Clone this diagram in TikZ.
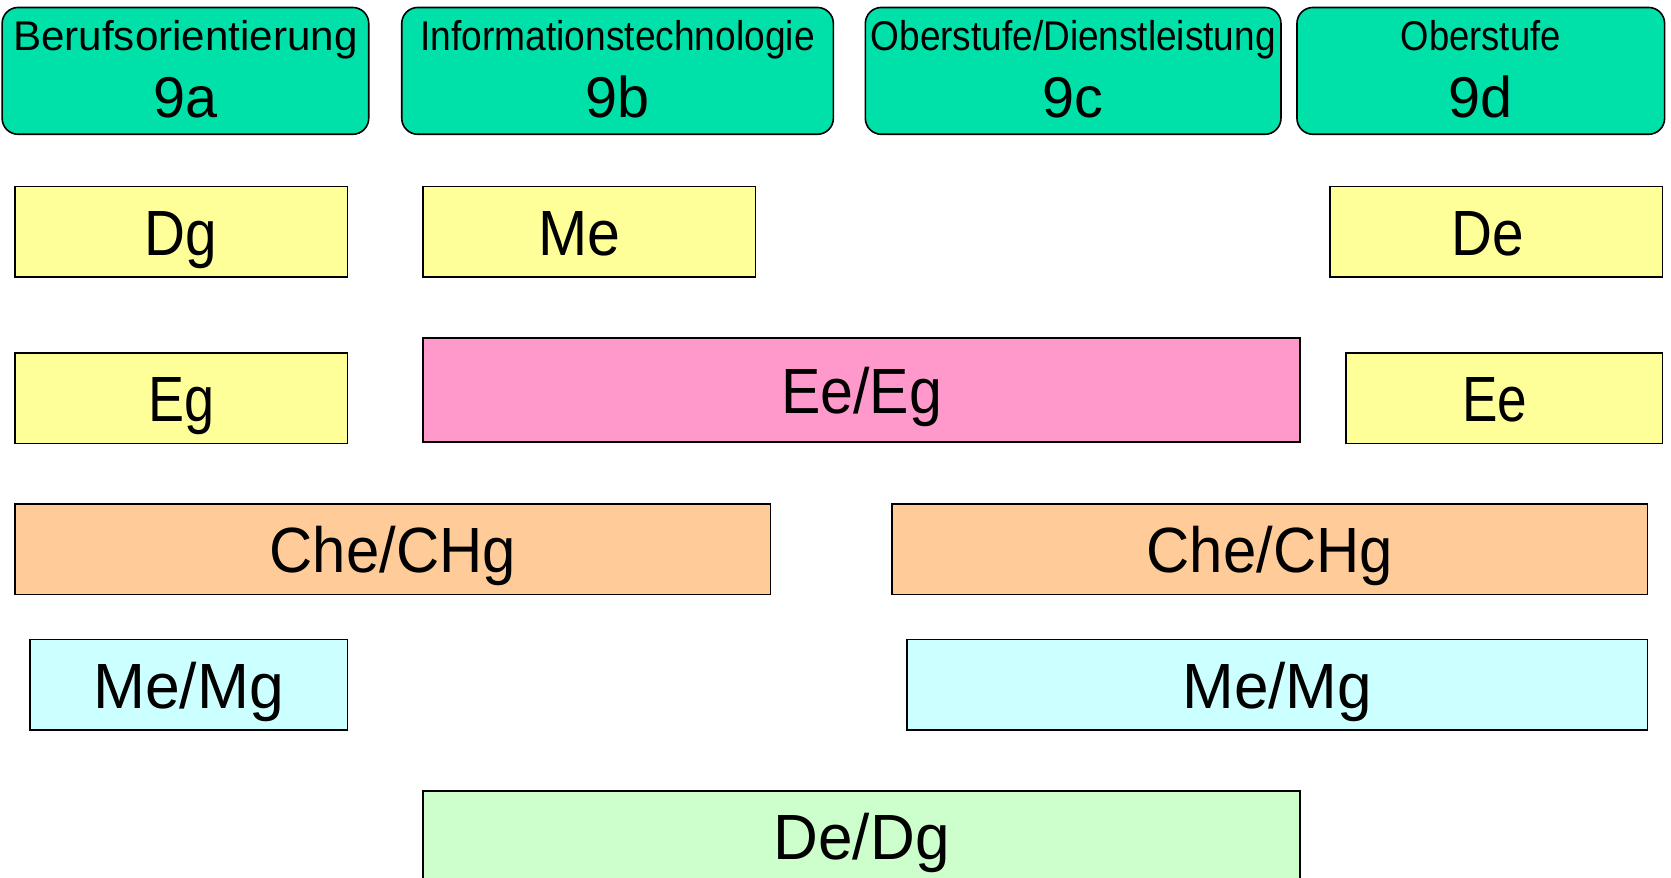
\documentclass[tikz,border=0pt]{standalone}
\usepackage{fontspec}
\setmainfont{Liberation Sans}
\usepackage{graphicx}
\definecolor{hdrgreen}{RGB}{0,225,170}
\definecolor{cyel}{RGB}{255,255,153}
\definecolor{cpink}{RGB}{255,153,204}
\definecolor{corange}{RGB}{255,204,153}
\definecolor{ccyan}{RGB}{204,255,255}
\definecolor{cgreen}{RGB}{204,255,204}
\newcommand{\sqz}[2]{\resizebox{#1pt}{\height}{#2}}
\newcommand{\mkbox}[7]{%
  \node[sbox, fill=#6, minimum width={(#4-#2)*1pt}, minimum height={(#5-#3)*1pt}]
    (#1) at ({(#2+#4)/2},{(#3+#5)/2}) {#7};}
\newcommand{\mkhdr}[7]{%
  \node[hdrbox, minimum width={(#3-#2)*1pt}, minimum height=119pt] (#1) at ({(#2+#3)/2},66.5) {};
  \node[hlineA] (#1t) at ({(#2+#3)/2},47) {\sqz{#4}{#5}};
  \node[hlineB] (#1n) at ({(#2+#3)/2+#7},110) {#6};}
\begin{document}
\begin{tikzpicture}[x=1pt,y=-1pt,
  hdrbox/.style={draw=black, line width=1.5pt, fill=hdrgreen, rounded corners=15pt, inner sep=0pt},
  hlineA/.style={font=\fontsize{39}{39}\selectfont, inner sep=0pt, anchor=base},
  hlineB/.style={font=\fontsize{54}{54}\selectfont, inner sep=0pt, anchor=base},
  sbox/.style={draw=black, line width=1.5pt, inner sep=0pt, text height=44pt, text depth=0pt,
    font=\fontsize{60}{60}\selectfont}]
\useasboundingbox (0,0) rectangle (1568,823);
\clip (0,0) rectangle (1568,823);
% headers
\mkhdr{h9a}{2}{346}{323}{Berufsorientierung}{9a}{0}
\mkhdr{h9b}{377}{782}{370}{Informationstechnologie}{9b}{0}
\mkhdr{h9c}{812}{1202}{380}{Oberstufe/Dienstleistung}{9c}{0}
\mkhdr{h9d}{1217}{1562}{150}{Oberstufe}{9d}{0}
% row 1
\mkbox{dg}{14}{175}{326}{260}{cyel}{\sqz{68}{Dg}}
\mkbox{me}{397}{175}{709}{260}{cyel}{\sqz{77}{Me}\kern19pt}
\mkbox{de}{1248}{175}{1560}{260}{cyel}{\sqz{68}{De}\kern16pt}
% row 2
\mkbox{eg}{14}{331}{326}{416}{cyel}{\sqz{62}{Eg}}
\mkbox{eeeg}{397}{317}{1220}{415}{cpink}{\sqz{151}{Ee/Eg}}
\mkbox{ee}{1263}{331}{1560}{416}{cyel}{\sqz{61}{Ee}\kern18pt}
% row 3
\mkbox{chA}{14}{473}{723}{558}{corange}{\sqz{231}{Che/CHg}}
\mkbox{chB}{837}{473}{1546}{558}{corange}{\sqz{231}{Che/CHg}}
% row 4
\mkbox{mmA}{28}{600}{326}{685}{ccyan}{\sqz{179}{Me/Mg}}
\mkbox{mmB}{851}{600}{1546}{685}{ccyan}{\sqz{178}{Me/Mg}}
% row 5
\node[sbox, fill=cgreen, minimum width=823pt, minimum height=85pt] (dedg) at (808.5,784.5) {\sqz{165}{De/Dg}};
\end{tikzpicture}
\end{document}
